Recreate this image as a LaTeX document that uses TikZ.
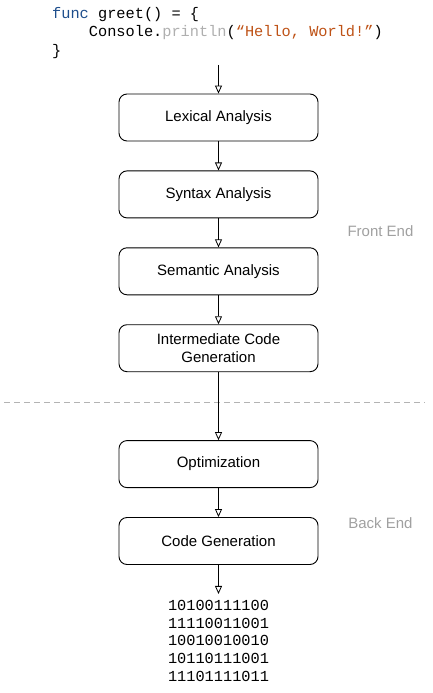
\documentclass[tikz,border=0pt]{standalone}
\usepackage{fontspec}
\usepackage{xcolor}
\usepackage{tikz}
\usetikzlibrary{positioning, arrows.meta}
\newfontfamily\boxfont{Liberation Sans}
\newfontfamily\codefont{Liberation Mono}
\definecolor{kwblue}{RGB}{30,78,140}
\definecolor{fngray}{RGB}{175,175,175}
\definecolor{strorange}{RGB}{190,82,22}
\definecolor{phasegray}{RGB}{160,160,160}
\tikzset{
    stage/.style={rectangle, rounded corners=8pt, draw=black, line width=0.9pt, fill=white, minimum width=199pt, minimum height=47pt, inner ysep=2pt, align=center, font=\boxfont\fontsize{15}{17.5}\selectfont},
    phase/.style={text=phasegray, font=\boxfont\fontsize{15}{17}\selectfont},
    code/.style={align=left, inner sep=0pt, font=\codefont\fontsize{15.3}{18.5}\selectfont},
    bits/.style={align=center, inner xsep=0pt, inner ysep=6pt, font=\codefont\fontsize{15.3}{17.8}\selectfont},
    flow/.style={-{Triangle[open, length=8pt, width=7pt]}, line width=0.8pt},
}
\begin{document}
\begin{tikzpicture}[x=1pt, y=1pt]
    \useasboundingbox (0,0) rectangle (432,-693);
    \node [code, anchor=north west] (src) at (52,-7) {{\color{kwblue}func} greet() = \{\\
        \ \ \ \ Console.{\color{fngray}println}({\color{strorange}“Hello, World!”})\\
        \}};
    \node [stage] (lex) at (218.5,-117.5) {Lexical Analysis};
    \node [stage] (syn) [below=29pt of lex] {Syntax Analysis};
    \node [stage] (sem) [below=29pt of syn] {Semantic Analysis};
    \node [stage] (inter) [below=29pt of sem] {Intermediate Code\\Generation};
    \node [stage] (opt) [below=68pt of inter] {Optimization};
    \node [stage] (gen) [below=29pt of opt] {Code Generation};
    \node [bits, anchor=north] (bin) [below=29pt of gen] {10100111100\\11110011001\\10010010010\\10110111001\\11101111011};
    \node [phase] (front) at (380.5,-231) {Front End};
    \node [phase] (back) at (380.5,-523) {Back End};
    \coordinate (cutl) at (4,-402);
    \coordinate (cutr) at (425,-402);
    \draw [phasegray!80, line width=0.8pt, dash pattern=on 6pt off 4pt] (cutl) -- (cutr);
    \draw [flow] (lex.north |- 0,-65) -- (lex);
    \draw [flow] (lex) -- (syn);
    \draw [flow] (syn) -- (sem);
    \draw [flow] (sem) -- (inter);
    \draw [flow] (inter) -- (opt);
    \draw [flow] (opt) -- (gen);
    \draw [flow] (gen) -- (bin);
\end{tikzpicture}
\end{document}
